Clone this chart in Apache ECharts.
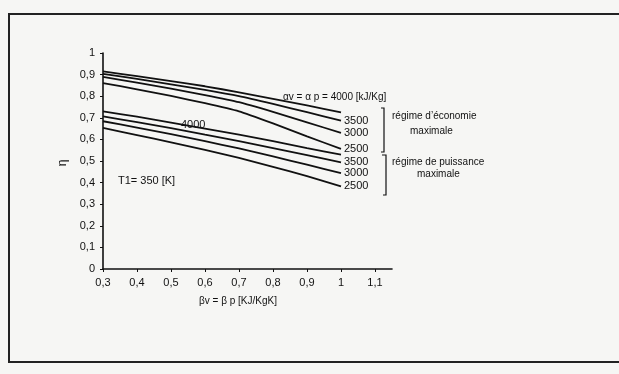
<!DOCTYPE html>
<html>
<head>
<meta charset="utf-8">
<script src="https://cdn.jsdelivr.net/npm/echarts@6/dist/echarts.min.js"></script>
<style>
  html, body { margin: 0; padding: 0; background: #f6f6f4; }
  #chart { width: 619px; height: 374px; }
</style>
</head>
<body>
<div id="chart"></div>
<script>
// beta values along x
const betaValues = [0.3, 0.4, 0.5, 0.6, 0.7, 0.8, 0.9, 1.0];

// régime d'économie maximale
const eco4000 = [0.915, 0.893, 0.870, 0.846, 0.818, 0.788, 0.757, 0.725];
const eco3500 = [0.903, 0.880, 0.855, 0.829, 0.800, 0.764, 0.726, 0.687];
const eco3000 = [0.889, 0.863, 0.835, 0.805, 0.772, 0.727, 0.679, 0.630];
const eco2500 = [0.861, 0.832, 0.801, 0.768, 0.730, 0.674, 0.614, 0.556];

// régime de puissance maximale
const pow4000 = [0.730, 0.705, 0.678, 0.650, 0.622, 0.592, 0.560, 0.529];
const pow3500 = [0.707, 0.680, 0.652, 0.622, 0.592, 0.560, 0.527, 0.494];
const pow3000 = [0.684, 0.655, 0.624, 0.592, 0.558, 0.521, 0.483, 0.444];
const pow2500 = [0.653, 0.620, 0.586, 0.551, 0.514, 0.473, 0.430, 0.383];

const xTicks = [0.3, 0.4, 0.5, 0.6, 0.7, 0.8, 0.9, 1.0, 1.1];

const ink = '#111';
const font = '"Liberation Sans", Arial, sans-serif';

const fmt = v => String(+(+v).toFixed(1)).replace('.', ',');

function curve(name, values, showEnd) {
  return {
    name: name,
    type: 'line',
    data: betaValues.map((b, i) => [b, values[i]]),
    showSymbol: false,
    smooth: 0.15,
    lineStyle: { color: ink, width: 1.8 },
    endLabel: {
      show: showEnd,
      formatter: '{a}',
      color: ink,
      fontFamily: font,
      fontSize: 11,
      distance: 3
    },
    silent: true
  };
}

const chart = echarts.init(document.getElementById('chart'));
chart.setOption({
  backgroundColor: '#f6f6f4',
  animation: false,
  grid: { left: 103, top: 53, width: 289, height: 216 },
  xAxis: {
    type: 'value',
    min: 0.3,
    max: 1.15,
    interval: 0.1,
    splitLine: { show: false },
    axisLine: { lineStyle: { color: ink, width: 1.6 } },
    axisTick: { length: 3, lineStyle: { color: ink }, customValues: xTicks },
    axisLabel: {
      customValues: xTicks,
      formatter: fmt,
      color: ink, fontFamily: font, fontSize: 11, margin: 8
    }
  },
  yAxis: {
    type: 'value',
    min: 0,
    max: 1,
    interval: 0.1,
    splitLine: { show: false },
    axisLine: { show: true, lineStyle: { color: ink, width: 1.6 } },
    axisTick: { show: true, length: 3, lineStyle: { color: ink } },
    axisLabel: { formatter: fmt, color: ink, fontFamily: font, fontSize: 11, margin: 8 }
  },
  series: [
    curve('4000', eco4000, false),
    curve('3500', eco3500, true),
    curve('3000', eco3000, true),
    curve('2500', eco2500, true),
    curve('4000', pow4000, false),
    curve('3500', pow3500, true),
    curve('3000', pow3000, true),
    curve('2500', pow2500, true)
  ],
  graphic: [
    {
      type: 'rect',
      shape: { x: 9, y: 14, width: 640, height: 348 },
      style: { fill: null, stroke: '#222', lineWidth: 2 },
      silent: true
    },
    {
      type: 'text', x: 283, y: 92,
      style: { text: 'αv = α p = 4000 [kJ/Kg]', fill: ink, font: '10px ' + font }
    },
    {
      type: 'text', x: 181, y: 119,
      style: { text: '4000', fill: ink, font: '11px ' + font }
    },
    {
      type: 'text', x: 118, y: 175,
      style: { text: 'T1= 350 [K]', fill: ink, font: '11px ' + font }
    },
    {
      type: 'text', x: 63, y: 163, rotation: Math.PI / 2,
      style: { text: 'η', fill: ink, font: '12px ' + font, align: 'center', verticalAlign: 'middle' }
    },
    {
      type: 'text', x: 238, y: 301,
      style: { text: 'βv = β p [KJ/KgK]', fill: ink, font: '10px ' + font, align: 'center', verticalAlign: 'middle' }
    },
    {
      type: 'polyline',
      shape: { points: [[381, 108], [384, 108], [384, 152], [381, 152]] },
      style: { stroke: ink, lineWidth: 1.2, fill: null }
    },
    {
      type: 'polyline',
      shape: { points: [[382, 155], [386, 155], [386, 195], [383, 195]] },
      style: { stroke: ink, lineWidth: 1.2, fill: null }
    },
    {
      type: 'text', x: 392, y: 111,
      style: { text: 'régime d\u2019économie', fill: ink, font: '10px ' + font }
    },
    {
      type: 'text', x: 410, y: 126,
      style: { text: 'maximale', fill: ink, font: '10px ' + font }
    },
    {
      type: 'text', x: 392, y: 157,
      style: { text: 'régime de puissance', fill: ink, font: '10px ' + font }
    },
    {
      type: 'text', x: 417, y: 169,
      style: { text: 'maximale', fill: ink, font: '10px ' + font }
    }
  ]
});
window.addEventListener('resize', () => chart.resize());
</script>
</body>
</html>
